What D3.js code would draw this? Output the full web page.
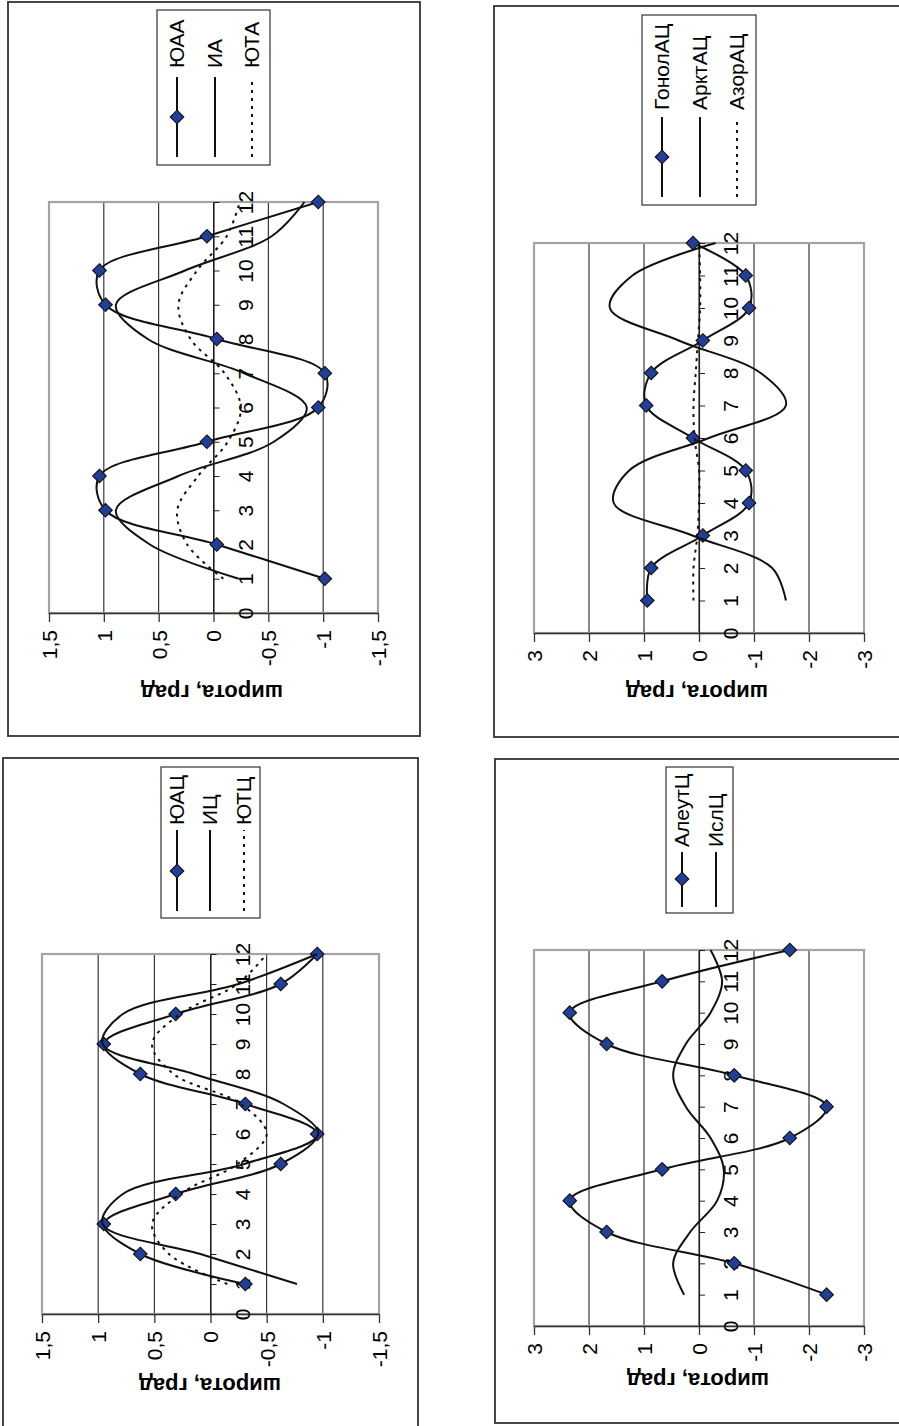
<!DOCTYPE html>
<html>
<head>
<meta charset="utf-8">
<script src="https://cdn.jsdelivr.net/npm/d3@7"></script>
<style>
  body { margin: 0; background: #fff; }
  svg { display: block; }
  text { font-family: "Liberation Sans", Arial, sans-serif; fill: #000; }
</style>
</head>
<body>
<svg id="chart" width="899" height="1426"></svg>
<script>
// Months on the horizontal axis and its tick labels
const months = [1, 2, 3, 4, 5, 6, 7, 8, 9, 10, 11, 12];
const monthTicks = [0, 1, 2, 3, 4, 5, 6, 7, 8, 9, 10, 11, 12];
const latTicksSmall = [1.5, 1, 0.5, 0, -0.5, -1, -1.5];
const latTicksLarge = [3, 2, 1, 0, -1, -2, -3];
const axisTitle = "широта, град";

// Panel 1: anticyclones
const seriesYuAA = [-1.015, -0.03, 0.985, 1.04, 0.06, -0.955, -1.015, -0.03, 0.985, 1.04, 0.06, -0.955];
const seriesIA   = [-0.23, 0.58, 0.89, 0.32, -0.55, -0.85, -0.28, 0.6, 0.89, 0.26, -0.53, -0.83];
const seriesYuTA = [-0.09, 0.24, 0.33, 0.14, -0.13, -0.25, -0.1, 0.21, 0.32, 0.15, -0.12, -0.24];

// Panel 2: Atlantic/Pacific anticyclones
const seriesGonolAC = [0.94, 0.87, -0.07, -0.91, -0.85, 0.11, 0.96, 0.87, -0.07, -0.91, -0.85, 0.11];
const seriesArktAC  = [-1.58, -1.33, 0.12, 1.55, 1.27, -0.18, -1.58, -1.12, 0.37, 1.62, 1.21, -0.3];
const seriesAzorAC  = [0.1, 0.1, 0.03, 0.0, 0.0, 0.08, 0.1, 0.06, 0.02, -0.02, -0.02, 0.0];

// Panel 3: cyclones
const seriesYuAC = [-0.31, 0.625, 0.95, 0.31, -0.625, -0.95, -0.31, 0.625, 0.95, 0.31, -0.625, -0.95];
const seriesIC   = [-0.77, 0.09, 0.96, 0.78, -0.3, -0.96, -0.65, 0.15, 0.96, 0.78, -0.25, -0.95];
const seriesYuTC = [-0.15, 0.37, 0.52, 0.27, -0.24, -0.5, -0.27, 0.33, 0.52, 0.27, -0.24, -0.5];

// Panel 4: Aleutian and Icelandic lows
const seriesAleutC = [-2.32, -0.64, 1.68, 2.35, 0.67, -1.65, -2.32, -0.64, 1.68, 2.35, 0.67, -1.65];
const seriesIslC   = [0.27, 0.47, 0.16, -0.33, -0.45, -0.21, 0.24, 0.47, 0.24, -0.21, -0.42, -0.21];

const svg = d3.select("#chart");
const fmt = v => String(v).replace(".", ",");
const diamond = r => `M0,${-r}L${r},0L0,${r}L${-r},0Z`;
const MARK = "#213f99";
const INK = "#111";
const TICK_FONT = "21px";

// Each panel is drawn turned a quarter turn counter-clockwise:
// months run upward, latitude runs right-to-left.
function drawPanel(p) {
  const g = svg.append("g");
  const [fx0, fy0, fx1, fy1] = p.frame;
  g.append("rect")
    .attr("x", fx0).attr("y", fy0).attr("width", fx1 - fx0).attr("height", fy1 - fy0)
    .attr("fill", "#fff").attr("stroke", "#333").attr("stroke-width", 1.8);

  const [L, T, R, B] = p.plot;
  const x = d3.scaleLinear().domain([0, 12]).range([B, T]);
  const y = d3.scaleLinear().domain(p.yDomain).range([L, R]);

  // latitude gridlines
  g.append("g").selectAll("line")
    .data(p.yTicks.filter(v => v !== p.yDomain[0] && v !== p.yDomain[1]))
    .join("line")
    .attr("x1", d => y(d)).attr("x2", d => y(d))
    .attr("y1", T).attr("y2", B)
    .attr("stroke", INK).attr("stroke-width", 1);

  // plot area border
  g.append("rect")
    .attr("x", L).attr("y", T).attr("width", R - L).attr("height", B - T)
    .attr("fill", "none").attr("stroke", "#a3a3a3").attr("stroke-width", 2.2);

  // latitude axis
  const ya = d3.axisBottom(y).tickValues(p.yTicks).tickSize(9).tickSizeOuter(0).tickFormat(fmt);
  const yg = g.append("g").attr("transform", `translate(0,${B})`).call(ya);
  yg.select(".domain").attr("stroke", "#333").attr("stroke-width", 1.6);
  yg.selectAll(".tick line").attr("stroke", "#333").attr("stroke-width", 1.3);
  yg.selectAll(".tick text")
    .attr("x", 0).attr("y", 0).attr("dy", "0.35em")
    .attr("text-anchor", "end")
    .attr("transform", "translate(0,17) rotate(-90)")
    .style("font-size", TICK_FONT).style("font-family", "'Liberation Sans', Arial, sans-serif")
    .attr("fill", "#000");

  // month axis crossing at zero latitude
  const xa = d3.axisRight(x).tickValues(monthTicks).tickSize(6).tickSizeOuter(0).tickFormat(d3.format("d"));
  const xg = g.append("g").attr("transform", `translate(${y(0)},0)`).call(xa);
  xg.select(".domain").attr("stroke", "#222").attr("stroke-width", 1.2);
  xg.selectAll(".tick line").attr("stroke", "#222");
  xg.selectAll(".tick text")
    .attr("x", 0).attr("y", 0).attr("dy", 0)
    .attr("text-anchor", "middle")
    .attr("transform", "translate(39,0) rotate(-90)")
    .style("font-size", TICK_FONT).style("font-family", "'Liberation Sans', Arial, sans-serif")
    .attr("fill", "#000");

  // series
  const line = d3.line()
    .x(d => y(d.v)).y(d => x(d.m))
    .curve(d3.curveCatmullRom.alpha(0.5));
  p.series.forEach(s => {
    const pts = months.map((m, i) => ({ m, v: s.values[i] }));
    g.append("path").datum(pts)
      .attr("d", line)
      .attr("fill", "none").attr("stroke", INK)
      .attr("stroke-width", 2)
      .attr("stroke-dasharray", s.dash ? "3,5" : null);
    if (s.marker) {
      g.append("g").selectAll("path").data(pts).join("path")
        .attr("transform", d => `translate(${y(d.v)},${x(d.m)})`)
        .attr("d", diamond(6.8))
        .attr("fill", MARK).attr("stroke", INK).attr("stroke-width", 1.1);
    }
  });

  // axis title
  g.append("text")
    .attr("transform", `translate(${p.title[0]},${p.title[1]}) rotate(180)`)
    .attr("text-anchor", "middle").attr("dy", "0.35em")
    .style("font-size", "22px").style("font-weight", "bold")
    .text(axisTitle);

  // legend
  const [lx0, ly0, lx1, ly1] = p.legend.box;
  g.append("rect")
    .attr("x", lx0).attr("y", ly0).attr("width", lx1 - lx0).attr("height", ly1 - ly0)
    .attr("fill", "#fff").attr("stroke", "#333").attr("stroke-width", 1.2);
  p.series.forEach((s, i) => {
    const ex = p.legend.xs[i];
    g.append("line")
      .attr("x1", ex).attr("x2", ex)
      .attr("y1", p.legend.line[0]).attr("y2", p.legend.line[1])
      .attr("stroke", INK).attr("stroke-width", 2)
      .attr("stroke-dasharray", s.dash ? "3,5" : null);
    if (s.marker) {
      g.append("path")
        .attr("transform", `translate(${ex},${p.legend.mark})`)
        .attr("d", diamond(6.8))
        .attr("fill", MARK).attr("stroke", INK).attr("stroke-width", 1.1);
    }
    g.append("text")
      .attr("transform", `translate(${ex},${p.legend.text}) rotate(-90)`)
      .attr("text-anchor", "start").attr("dy", "0.35em")
      .style("font-size", "21px")
      .text(s.name);
  });
}

drawPanel({
  frame: [8, 2, 420, 736],
  plot: [49, 202, 378, 613],
  yDomain: [1.5, -1.5], yTicks: latTicksSmall,
  title: [212, 693],
  legend: { box: [157, 10, 270, 165], xs: [177, 215, 252], line: [157, 77], mark: 117, text: 68 },
  series: [
    { name: "ЮАА", values: seriesYuAA, marker: true },
    { name: "ИА", values: seriesIA },
    { name: "ЮТА", values: seriesYuTA, dash: true }
  ]
});

drawPanel({
  frame: [494, 6, 910, 737],
  plot: [534, 243, 864, 633],
  yDomain: [3, -3], yTicks: latTicksLarge,
  title: [697, 693],
  legend: { box: [642, 15, 756, 205], xs: [662, 700, 737], line: [197, 117], mark: 157, text: 110 },
  series: [
    { name: "ГонолАЦ", values: seriesGonolAC, marker: true },
    { name: "АрктАЦ", values: seriesArktAC },
    { name: "АзорАЦ", values: seriesAzorAC, dash: true }
  ]
});

drawPanel({
  frame: [3, 758, 418, 1440],
  plot: [42, 954, 379, 1314],
  yDomain: [1.5, -1.5], yTicks: latTicksSmall,
  title: [210, 1386],
  legend: { box: [161, 767, 260, 918], xs: [177, 210, 244], line: [911, 830], mark: 871, text: 825 },
  series: [
    { name: "ЮАЦ", values: seriesYuAC, marker: true },
    { name: "ИЦ", values: seriesIC },
    { name: "ЮТЦ", values: seriesYuTC, dash: true }
  ]
});

drawPanel({
  frame: [495, 759, 910, 1423],
  plot: [534, 950, 864, 1326],
  yDomain: [3, -3], yTicks: latTicksLarge,
  title: [698, 1381],
  legend: { box: [666, 767, 733, 913], xs: [682, 716], line: [907, 852], mark: 879, text: 847 },
  series: [
    { name: "АлеутЦ", values: seriesAleutC, marker: true },
    { name: "ИслЦ", values: seriesIslC }
  ]
});
</script>
</body>
</html>
